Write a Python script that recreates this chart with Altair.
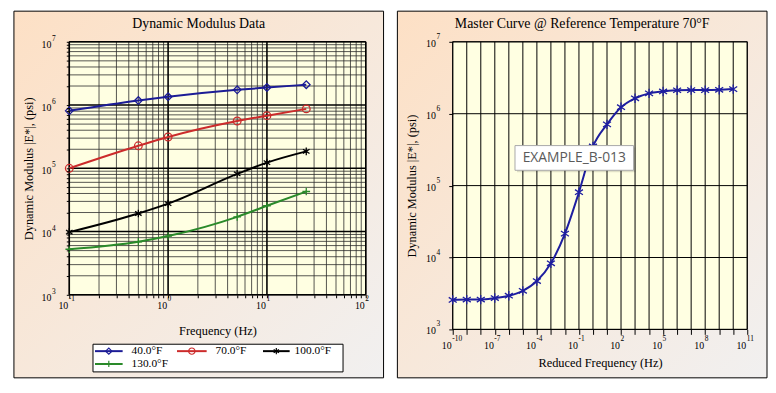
import altair as alt
import pandas as pd

# ---------------- data ----------------
freq_hz = [0.1, 0.5, 1, 5, 10, 25]
temps = ["40.0°F", "70.0°F", "100.0°F", "130.0°F"]
e_40f = [8.1e5, 1.18e6, 1.35e6, 1.74e6, 1.89e6, 2.10e6]
e_70f = [1.00e5, 2.27e5, 3.13e5, 5.60e5, 6.80e5, 8.70e5]
e_100f = [9.8e3, 1.93e4, 2.76e4, 8.15e4, 1.23e5, 1.85e5]
e_130f = [5.25e3, 6.9e3, 8.5e3, 1.71e4, 2.56e4, 4.3e4]

reduced_exp = list(range(-10, 11))
master_e = [2.57e3, 2.60e3, 2.60e3, 2.73e3, 2.94e3, 3.44e3, 4.70e3, 8.3e3,
            2.15e4, 8.1e4, 3.5e5, 7.1e5, 1.23e6, 1.64e6, 1.92e6, 2.04e6,
            2.12e6, 2.13e6, 2.13e6, 2.15e6, 2.20e6]

# tick-label exponents (labels read "10" with a raised exponent)
left_x_exps = [-1, 0, 1, 2]
left_y_exps = [3, 4, 5, 6, 7]
right_x_exps = [-10, -7, -4, -1, 2, 5, 8, 11]
right_y_exps = [3, 4, 5, 6, 7]

title_left = "Dynamic Modulus Data"
title_right = "Master Curve @ Reference Temperature 70°F"
y_title = "Dynamic Modulus |E*|, (psi)"
x_title_left = "Frequency (Hz)"
x_title_right = "Reduced Frequency (Hz)"
note_text = "EXAMPLE_B-013"

# ---------------- styles ----------------
SERIF = "Liberation Serif"
colors = ["#1c1c96", "#cc2b2b", "#000000", "#2a8a2a"]
ASTER = "M0,-1L0,1M-0.85,-0.55L0.85,0.55M-0.85,0.55L0.85,-0.55"
PLUS = "M-1,0L1,0M0,-1L0,1"
shapes = ["diamond", "circle", ASTER, PLUS]
PLOT_BG = "#ffffe2"
panel_fill = alt.Gradient(
    gradient="linear",
    stops=[alt.GradientStop(color="#fde0c5", offset=0),
           alt.GradientStop(color="#f1f0f0", offset=1)],
    x1=0, y1=0, x2=1, y2=1,
)

one = pd.DataFrame({"k": [0]})

common_axis = dict(grid=False, domain=False, labels=False, tickColor="black",
                   titleFont=SERIF, titleFontSize=12.5, titleFontWeight="normal",
                   titleColor="black", zindex=1, titleAlign="center",
                   titleBaseline="middle")


def tick_df(exps):
    return pd.DataFrame({"v": [10.0 ** e for e in exps],
                         "base": ["10"] * len(exps),
                         "e": [str(e) for e in exps]})


def x_labels(exps, scale, axis, base_y, exp_y):
    d = tick_df(exps)
    base = alt.Chart(d).mark_text(align="right", baseline="middle", font=SERIF,
                                  fontSize=10, color="black", dx=-1).encode(
        x=alt.X("v:Q", scale=scale, axis=axis), y=alt.value(base_y), text="base:N")
    ex = alt.Chart(d).mark_text(align="left", baseline="middle", font=SERIF,
                                fontSize=7.5, color="black", dx=-0.5).encode(
        x=alt.X("v:Q", scale=scale, axis=axis), y=alt.value(exp_y), text="e:N")
    return [base, ex]


def y_labels(exps, scale, axis, right_edge, dy_base, dy_exp):
    d = tick_df(exps)
    base = alt.Chart(d).mark_text(align="right", baseline="middle", font=SERIF,
                                  fontSize=10, color="black", dy=dy_base).encode(
        y=alt.Y("v:Q", scale=scale, axis=axis), x=alt.value(right_edge), text="base:N")
    ex = alt.Chart(d).mark_text(align="left", baseline="middle", font=SERIF,
                                fontSize=7.5, color="black", dy=dy_exp).encode(
        y=alt.Y("v:Q", scale=scale, axis=axis), x=alt.value(right_edge + 0.5), text="e:N")
    return [base, ex]


# ---------------- left panel ----------------
LW, LH = 300, 256
rows = []
for name, vals in zip(temps, [e_40f, e_70f, e_100f, e_130f]):
    for f, v in zip(freq_hz, vals):
        rows.append({"freq": f, "E": v, "series": name})
df_left = pd.DataFrame(rows)

xs_l = alt.Scale(type="log", domain=[0.1, 100], nice=False)
ys_l = alt.Scale(type="log", domain=[1e3, 1e7], nice=False)

x_minor_l = [k * 10.0 ** d for d in (-1, 0, 1) for k in range(2, 10)]
x_major_l = [0.1, 1, 10, 100]
y_minor_l = [k * 10.0 ** d for d in (3, 4, 5, 6) for k in range(2, 10)]
y_major_l = [1e3, 1e4, 1e5, 1e6, 1e7]

ax_x_l = alt.Axis(values=sorted(x_minor_l + x_major_l), tickSize=3, title=x_title_left,
                  titleX=LW / 2, titleY=36, **common_axis)
ax_y_l = alt.Axis(values=sorted(y_minor_l + y_major_l), tickSize=3, title=y_title,
                  titleAngle=-90, titleX=-41, titleY=LH / 2, **common_axis)

l_panel = alt.Chart(one).mark_rect(fill=panel_fill, stroke="black", strokeWidth=1).encode(
    x=alt.value(-56), x2=alt.value(318), y=alt.value(-31), y2=alt.value(340))
l_plot = alt.Chart(one).mark_rect(fill=PLOT_BG).encode(
    x=alt.value(0), x2=alt.value(LW), y=alt.value(0), y2=alt.value(LH))

l_gx_min = alt.Chart(pd.DataFrame({"v": x_minor_l})).mark_rule(color="#2a2a2a", strokeWidth=0.8).encode(
    x=alt.X("v:Q", scale=xs_l, axis=ax_x_l))
l_gy_min = alt.Chart(pd.DataFrame({"v": y_minor_l})).mark_rule(color="#2a2a2a", strokeWidth=0.8).encode(
    y=alt.Y("v:Q", scale=ys_l, axis=ax_y_l))
l_gx_maj = alt.Chart(pd.DataFrame({"v": x_major_l})).mark_rule(color="black", strokeWidth=1.6).encode(
    x=alt.X("v:Q", scale=xs_l, axis=ax_x_l))
l_gy_maj = alt.Chart(pd.DataFrame({"v": y_major_l})).mark_rule(color="black", strokeWidth=1.6).encode(
    y=alt.Y("v:Q", scale=ys_l, axis=ax_y_l))
l_frame = alt.Chart(one).mark_rect(fillOpacity=0, stroke="black", strokeWidth=1).encode(
    x=alt.value(0), x2=alt.value(LW), y=alt.value(0), y2=alt.value(LH))

color_l = alt.Color("series:N", scale=alt.Scale(domain=temps, range=colors), legend=None)
l_lines = alt.Chart(df_left).mark_line(interpolate="monotone", strokeWidth=2).encode(
    x=alt.X("freq:Q", scale=xs_l, axis=ax_x_l),
    y=alt.Y("E:Q", scale=ys_l, axis=ax_y_l),
    color=color_l)
l_points = alt.Chart(df_left).mark_point(filled=False, size=60, strokeWidth=1.3, opacity=1).encode(
    x=alt.X("freq:Q", scale=xs_l, axis=ax_x_l),
    y=alt.Y("E:Q", scale=ys_l, axis=ax_y_l),
    color=color_l,
    shape=alt.Shape("series:N", scale=alt.Scale(domain=temps, range=shapes), legend=None))

l_ticklabels = (x_labels(left_x_exps, xs_l, ax_x_l, LH + 11, LH + 4)
                + y_labels(left_y_exps, ys_l, ax_y_l, -18, 3, -3))

# manual legend box (positions relative to the left plot area)
leg_layers = [alt.Chart(one).mark_rect(fill="white", stroke="black", strokeWidth=1).encode(
    x=alt.value(24), x2=alt.value(277), y=alt.value(306), y2=alt.value(334))]
col_x = [(26, 54, 63), (109, 139, 148), (196, 223, 228)]
for i, name in enumerate(temps):
    r, c = divmod(i, 3)
    x0, x1, tx = col_x[c]
    yy = 313 + 13 * r
    leg_layers.append(alt.Chart(one).mark_rule(color=colors[i], strokeWidth=2).encode(
        x=alt.value(x0), x2=alt.value(x1), y=alt.value(yy)))
    leg_layers.append(alt.Chart(one).mark_point(shape=shapes[i], filled=False, size=40,
                                                strokeWidth=1.2, color=colors[i], opacity=1).encode(
        x=alt.value((x0 + x1) / 2), y=alt.value(yy)))
    leg_layers.append(alt.Chart(one).mark_text(align="left", baseline="middle", font=SERIF,
                                               fontSize=11.5, color="black").encode(
        x=alt.value(tx), y=alt.value(yy), text=alt.value(name)))

l_title = alt.Chart(one).mark_text(font=SERIF, fontSize=14, color="black", baseline="middle").encode(
    x=alt.value(131), y=alt.value(-18), text=alt.value(title_left))

left = alt.layer(l_panel, l_plot, l_gx_min, l_gy_min, l_gx_maj, l_gy_maj, l_frame,
                 l_lines, l_points, *l_ticklabels, *leg_layers, l_title
                 ).properties(width=LW, height=LH)

# ---------------- right panel ----------------
RW, RH = 298, 291
df_right = pd.DataFrame({"rf": [10.0 ** e for e in reduced_exp], "E": master_e})

xs_r = alt.Scale(type="log", domain=[1e-10, 1e11], nice=False)
ys_r = alt.Scale(type="log", domain=[1e3, 1e7], nice=False)
x_dec_r = [10.0 ** e for e in range(-10, 12)]
y_dec_r = [1e3, 1e4, 1e5, 1e6, 1e7]

ax_x_r = alt.Axis(values=x_dec_r, tickSize=5, title=x_title_right,
                  titleX=RW / 2, titleY=34, **common_axis)
ax_y_r = alt.Axis(values=y_dec_r, tickSize=4, title=y_title, titleAngle=-90,
                  titleX=-42, titleY=RH / 2, **common_axis)

r_panel = alt.Chart(one).mark_rect(fill=panel_fill, stroke="black", strokeWidth=1).encode(
    x=alt.value(-56), x2=alt.value(318), y=alt.value(-31), y2=alt.value(340))
r_plot = alt.Chart(one).mark_rect(fill=PLOT_BG).encode(
    x=alt.value(0), x2=alt.value(RW), y=alt.value(0), y2=alt.value(RH))
r_gx = alt.Chart(pd.DataFrame({"v": x_dec_r})).mark_rule(color="black", strokeWidth=1).encode(
    x=alt.X("v:Q", scale=xs_r, axis=ax_x_r))
r_gy = alt.Chart(pd.DataFrame({"v": y_dec_r})).mark_rule(color="black", strokeWidth=1).encode(
    y=alt.Y("v:Q", scale=ys_r, axis=ax_y_r))
r_frame = alt.Chart(one).mark_rect(fillOpacity=0, stroke="black", strokeWidth=1).encode(
    x=alt.value(0), x2=alt.value(RW), y=alt.value(0), y2=alt.value(RH))
r_line = alt.Chart(df_right).mark_line(interpolate="monotone", strokeWidth=2, color="#1e1ea0").encode(
    x=alt.X("rf:Q", scale=xs_r, axis=ax_x_r),
    y=alt.Y("E:Q", scale=ys_r, axis=ax_y_r))
r_points = alt.Chart(df_right).mark_point(shape=ASTER, filled=False, size=90, strokeWidth=1.3,
                                          color="#1e1ea0", opacity=1).encode(
    x=alt.X("rf:Q", scale=xs_r, axis=ax_x_r),
    y=alt.Y("E:Q", scale=ys_r, axis=ax_y_r))

r_ticklabels = (x_labels(right_x_exps, xs_r, ax_x_r, RH + 17, RH + 10)
                + y_labels(right_y_exps, ys_r, ax_y_r, -17, 2, -5))

r_shadow = alt.Chart(one).mark_rect(fill="black", opacity=0.12).encode(
    x=alt.value(65), x2=alt.value(185), y=alt.value(107), y2=alt.value(132))
r_box = alt.Chart(one).mark_rect(fill="white", stroke="#a8a8a8", strokeWidth=1).encode(
    x=alt.value(63), x2=alt.value(183), y=alt.value(105), y2=alt.value(130))
r_note = alt.Chart(one).mark_text(font="Open Sans", fontSize=14, color="#5a5a5a", baseline="middle").encode(
    x=alt.value(123), y=alt.value(118), text=alt.value(note_text))
r_title = alt.Chart(one).mark_text(font=SERIF, fontSize=14, color="black", baseline="middle").encode(
    x=alt.value(131), y=alt.value(-18), text=alt.value(title_right))

right = alt.layer(r_panel, r_plot, r_gx, r_gy, r_frame, r_line, r_points, *r_ticklabels,
                  r_shadow, r_box, r_note, r_title).properties(width=RW, height=RH)

chart = alt.hconcat(left, right, spacing=12).properties(
    padding={"left": 5, "top": 0, "right": 0, "bottom": 0},
    background="white",
).configure_view(strokeWidth=0).configure_axis(
    titleFont=SERIF, titleFontSize=12.5, titleFontWeight="normal", titleColor="black",
    labelFont=SERIF,
)

chart.save("out.html", embed_options={"renderer": "svg", "actions": False})
